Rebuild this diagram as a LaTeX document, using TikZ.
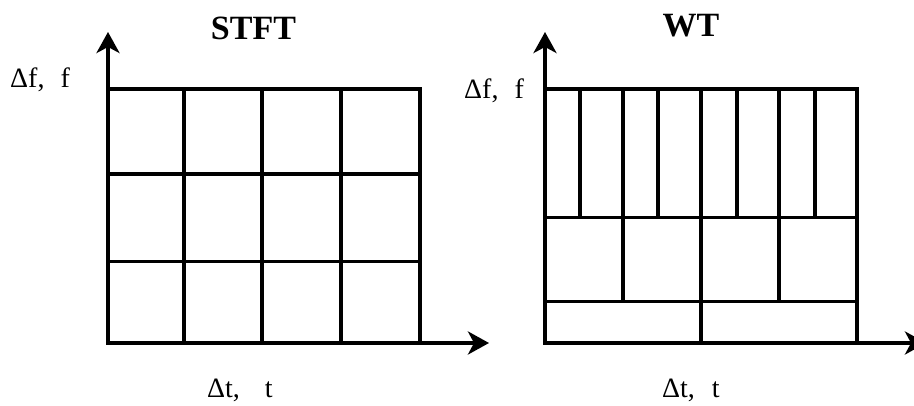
\documentclass[tikz,border=0pt]{standalone}
\usepackage{fontspec}
\setmainfont{Liberation Serif}
\usetikzlibrary{arrows.meta}
\begin{document}
\begin{tikzpicture}[x=1pt,y=-1pt,
  gridline/.style={line width=3.3pt},
  axisline/.style={line width=4pt,-{Stealth[length=21pt,width=23pt,inset=6pt]}},
  lab/.style={font=\fontsize{28}{33}\selectfont, inner sep=0pt, anchor=base west},
  ttl/.style={font=\fontsize{34}{40}\selectfont\bfseries, inner sep=0pt, anchor=base}]
\clip (0,0) rectangle (914,406);
% ---------- STFT ----------
\coordinate (oA) at (108,343);
\coordinate (yA) at (108,32);
\coordinate (xA) at (489,343);
\draw[gridline] (108,89) rectangle (420,343);
\foreach \x in {184,262,341} \draw[gridline] (\x,89) -- (\x,343);
\foreach \y in {174,261.7} \draw[gridline] (108,\y) -- (420,\y);
\draw[axisline] (oA) -- (yA);
\draw[axisline] (oA) -- (xA);
\node[ttl] (tA) at (253.5,40) {STFT};
\node[lab] (fA) at (10,88) {Δf,\hspace{16pt}f};
\node[lab] (tAx) at (207,397) {Δt,\hspace{25pt}t};
% ---------- WT ----------
\coordinate (oB) at (545,343);
\coordinate (yB) at (545,32);
\coordinate (xB) at (926,343);
\draw[gridline] (545,89) rectangle (857,343);
\foreach \y in {217.3,301.7} \draw[gridline] (545,\y) -- (857,\y);
\foreach \x in {580,658,737,815} \draw[gridline] (\x,89) -- (\x,217.3);
\foreach \x in {623,779} \draw[gridline] (\x,89) -- (\x,301.7);
\draw[gridline] (701,89) -- (701,343);
\draw[axisline] (oB) -- (yB);
\draw[axisline] (oB) -- (xB);
\node[ttl] (tB) at (691,37) {WT};
\node[lab] (fB) at (464,99) {Δf,\hspace{16pt}f};
\node[lab] (tBx) at (662,397) {Δt,\hspace{17pt}t};
\end{tikzpicture}
\end{document}
